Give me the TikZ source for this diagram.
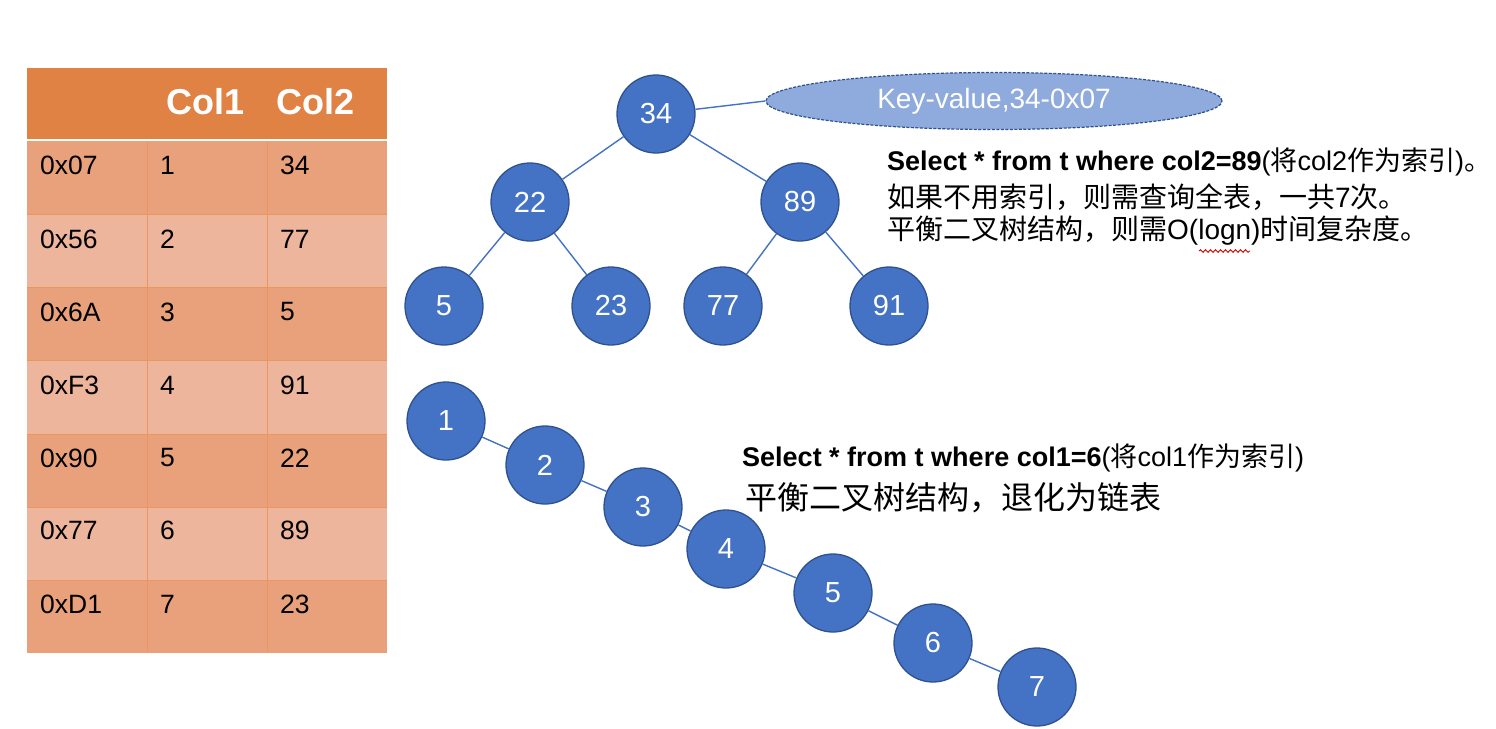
\documentclass[tikz,border=0pt]{standalone}
\usepackage{fontspec}
\setmainfont{Liberation Sans}
\newfontfamily\cjk{Noto Sans CJK SC}
\newcommand\zh[1]{{\cjk #1}}
\usetikzlibrary{shapes.geometric,decorations.pathmorphing}
\definecolor{headorange}{RGB}{223,130,68}
\definecolor{rowdark}{RGB}{232,161,122}
\definecolor{rowlight}{RGB}{237,181,156}
\definecolor{gridorange}{RGB}{236,150,95}
\definecolor{keyblue}{RGB}{68,114,196}
\definecolor{keyborder}{RGB}{47,82,143}
\definecolor{kvblue}{RGB}{143,170,220}
\tikzset{
  keynode/.style={circle,draw=keyborder,fill=keyblue,line width=1.3pt,minimum size=78pt,inner sep=0pt,text=white,font=\fontsize{29}{29}\selectfont},
  treelink/.style={keyblue,line width=1.4pt},
  celltext/.style={anchor=west,inner sep=0pt,font=\fontsize{26.5}{26.5}\selectfont},
  headtext/.style={text=white,inner sep=0pt,font=\bfseries\fontsize{36}{36}\selectfont},
  notetext/.style={anchor=west,inner sep=0pt,font=\fontsize{27}{27}\selectfont}
}
\begin{document}
\begin{tikzpicture}[x=1pt,y=-1pt]
\useasboundingbox[fill=white] (0,0) rectangle (1496,728);
% table
\fill[headorange] (27,68) rectangle (387,140);
\fill[rowdark] (27,140) rectangle (387,214);
\fill[rowlight] (27,214) rectangle (387,287);
\fill[rowdark] (27,287) rectangle (387,360);
\fill[rowlight] (27,360) rectangle (387,434);
\fill[rowdark] (27,434) rectangle (387,507);
\fill[rowlight] (27,507) rectangle (387,580);
\fill[rowdark] (27,580) rectangle (387,653);
\draw[gridorange] (147,140)--(147,653);
\draw[gridorange] (267,140)--(267,653);
\draw[gridorange] (27,214)--(387,214);
\draw[gridorange] (27,287)--(387,287);
\draw[gridorange] (27,360)--(387,360);
\draw[gridorange] (27,434)--(387,434);
\draw[gridorange] (27,507)--(387,507);
\draw[gridorange] (27,580)--(387,580);
\draw[white,line width=2pt] (27,140)--(387,140);
\node[headtext] (hcol1) at (206,102) {Col1};
\node[headtext] (hcol2) at (316,102) {Col2};
\node[celltext] (a1) at (40,165) {0x07};
\node[celltext] (b1) at (160,165) {1};
\node[celltext] (c1) at (280,165) {34};
\node[celltext] (a2) at (40,239) {0x56};
\node[celltext] (b2) at (160,239) {2};
\node[celltext] (c2) at (280,239) {77};
\node[celltext] (a3) at (40,312) {0x6A};
\node[celltext] (b3) at (160,312) {3};
\node[celltext] (c3) at (280,312) {5};
\node[celltext] (a4) at (40,385) {0xF3};
\node[celltext] (b4) at (160,385) {4};
\node[celltext] (c4) at (280,385) {91};
\node[celltext] (a5) at (40,458) {0x90};
\node[celltext] (b5) at (160,458) {5};
\node[celltext] (c5) at (280,458) {22};
\node[celltext] (a6) at (40,530) {0x77};
\node[celltext] (b6) at (160,530) {6};
\node[celltext] (c6) at (280,530) {89};
\node[celltext] (a7) at (40,604) {0xD1};
\node[celltext] (b7) at (160,604) {7};
\node[celltext] (c7) at (280,604) {23};
% balanced tree on col2
\node[keynode] (t34) at (656,114) {34};
\node[keynode] (t22) at (530,202) {22};
\node[keynode] (t89) at (800,202) {89};
\node[keynode] (t5) at (444,306) {5};
\node[keynode] (t23) at (611,306) {23};
\node[keynode] (t77) at (723,306) {77};
\node[keynode] (t91) at (889,306) {91};
\node[ellipse,draw=keyborder,dash pattern=on 3pt off 1.5pt,line width=1.2pt,fill=kvblue,minimum width=456pt,minimum height=57pt,text=white,font=\fontsize{28}{28}\selectfont] (kv) at (994,101) {Key-value,34-0x07};
\draw[treelink] (t34)--(kv.west);
\draw[treelink] (t34)--(t22);
\draw[treelink] (t34)--(t89);
\draw[treelink] (t22)--(t5);
\draw[treelink] (t22)--(t23);
\draw[treelink] (t89)--(t77);
\draw[treelink] (t89)--(t91);
% chain on col1
\node[keynode] (s1) at (446,421) {1};
\node[keynode] (s2) at (545,465) {2};
\node[keynode] (s3) at (643,507) {3};
\node[keynode] (s4) at (726,549) {4};
\node[keynode] (s5) at (833,593) {5};
\node[keynode] (s6) at (933,643) {6};
\node[keynode] (s7) at (1037,687) {7};
\draw[treelink] (s1)--(s2);
\draw[treelink] (s2)--(s3);
\draw[treelink] (s3)--(s4);
\draw[treelink] (s4)--(s5);
\draw[treelink] (s5)--(s6);
\draw[treelink] (s6)--(s7);
% notes
\node[notetext] (q2a) at (887,162) {\textbf{Select * from t where col2=89}(\zh{将}col2\zh{作为索引})\zh{。}};
\node[notetext,font=\fontsize{28}{28}\selectfont] (q2b) at (887,197) {\zh{如果不用索引，则需查询全表，一共}7\zh{次。}};
\node[notetext,font=\fontsize{28}{28}\selectfont] (q2c) at (887,231) {\zh{平衡二叉树结构，则需}O(logn)\zh{时间复杂度。}};
\draw[red!85!black,line width=0.9pt,decorate,decoration={snake,amplitude=1.3pt,segment length=5pt}] (1199,251)--(1250,251);
\node[notetext] (q1a) at (742,458) {\textbf{Select * from t where col1=6}(\zh{将}col1\zh{作为索引})};
\node[notetext,font=\fontsize{32}{32}\selectfont] (q1b) at (745,498) {\zh{平衡二叉树结构，退化为链表}};
\end{tikzpicture}
\end{document}
